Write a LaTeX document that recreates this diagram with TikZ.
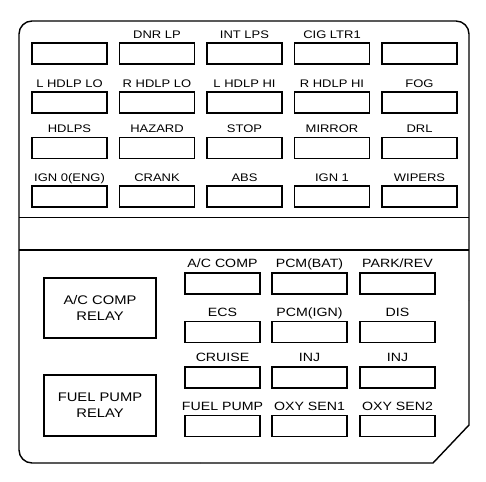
\documentclass[tikz,border=0pt]{standalone}
\usepackage{fontspec}
\usepackage{tikz}
\usetikzlibrary{positioning}
\newfontfamily\fusefont[FakeStretch=1.18]{Liberation Sans}
\tikzset{
  fuse/.style={rectangle, draw, line width=1.1pt, minimum width=75pt, minimum height=21pt, inner sep=0pt},
  relay/.style={rectangle, draw, line width=1.1pt, minimum width=112pt, minimum height=60pt, align=center, font=\fusefont\fontsize{12.5}{16}\selectfont},
  utxt/.style={inner sep=0pt, text depth=0pt, font=\fusefont\fontsize{11}{13}\selectfont},
  ltxt/.style={inner sep=0pt, text depth=0pt, font=\fusefont\fontsize{12}{14}\selectfont},
}

\begin{document}
\begin{tikzpicture}[x=1pt, y=-1pt]
  \useasboundingbox (0,0) rectangle (486,481);
  % housing
  \draw[line width=1.4pt, rounded corners=13pt] (200,463) -- (19,463) -- (19,21) -- (469,21) -- (469,300);
  \draw[line width=1.4pt] (469,300) -- (469,425) -- (433,463) -- (200,463);
  \draw[line width=1pt] (19,217) -- (469,217);
  \draw[line width=1.4pt] (19,250) -- (469,250);

  % upper fuse block
  \node[fuse] (r1c1) at (69.5,53.5) {};
  \node[fuse] (r1c2) at (157,53.5) {};
  \node[fuse] (r1c3) at (244.5,53.5) {};
  \node[fuse] (r1c4) at (332,53.5) {};
  \node[fuse] (r1c5) at (419.5,53.5) {};
  \node[utxt, above=4pt of r1c2] (l1c2) {DNR LP};
  \node[utxt, above=4pt of r1c3] (l1c3) {INT LPS};
  \node[utxt, above=4pt of r1c4] (l1c4) {CIG LTR1};

  \node[fuse] (r2c1) at (69.5,102.5) {};
  \node[fuse] (r2c2) at (157,102.5) {};
  \node[fuse] (r2c3) at (244.5,102.5) {};
  \node[fuse] (r2c4) at (332,102.5) {};
  \node[fuse] (r2c5) at (419.5,102.5) {};
  \node[utxt, above=4pt of r2c1] (l2c1) {L HDLP LO};
  \node[utxt, above=4pt of r2c2] (l2c2) {R HDLP LO};
  \node[utxt, above=4pt of r2c3] (l2c3) {L HDLP HI};
  \node[utxt, above=4pt of r2c4] (l2c4) {R HDLP HI};
  \node[utxt, above=4pt of r2c5] (l2c5) {FOG};

  \node[fuse] (r3c1) at (69.5,148) {};
  \node[fuse] (r3c2) at (157,148) {};
  \node[fuse] (r3c3) at (244.5,148) {};
  \node[fuse] (r3c4) at (332,148) {};
  \node[fuse] (r3c5) at (419.5,148) {};
  \node[utxt, above=4pt of r3c1] (l3c1) {HDLPS};
  \node[utxt, above=4pt of r3c2] (l3c2) {HAZARD};
  \node[utxt, above=4pt of r3c3] (l3c3) {STOP};
  \node[utxt, above=4pt of r3c4] (l3c4) {MIRROR};
  \node[utxt, above=4pt of r3c5] (l3c5) {DRL};

  \node[fuse] (r4c1) at (69.5,196.5) {};
  \node[fuse] (r4c2) at (157,196.5) {};
  \node[fuse] (r4c3) at (244.5,196.5) {};
  \node[fuse] (r4c4) at (332,196.5) {};
  \node[fuse] (r4c5) at (419.5,196.5) {};
  \node[utxt, above=4pt of r4c1] (l4c1) {IGN 0(ENG)};
  \node[utxt, above=4pt of r4c2] (l4c2) {CRANK};
  \node[utxt, above=4pt of r4c3] (l4c3) {ABS};
  \node[utxt, above=4pt of r4c4] (l4c4) {IGN 1};
  \node[utxt, above=4pt of r4c5] (l4c5) {WIPERS};

  % lower block
  \node[relay] (acrelay) at (100,308) {A/C COMP\\RELAY};
  \node[relay, minimum height=61pt] (fprelay) at (100,405.5) {FUEL PUMP\\RELAY};

  \node[fuse] (m1c1) at (222.5,283.5) {};
  \node[fuse] (m1c2) at (309.5,283.5) {};
  \node[fuse] (m1c3) at (397.5,283.5) {};
  \node[ltxt, above=4.5pt of m1c1] (n1c1) {A/C COMP};
  \node[ltxt, above=4.5pt of m1c2] (n1c2) {PCM(BAT)};
  \node[ltxt, above=4.5pt of m1c3] (n1c3) {PARK/REV};

  \node[fuse] (m2c1) at (222.5,332) {};
  \node[fuse] (m2c2) at (309.5,332) {};
  \node[fuse] (m2c3) at (397.5,332) {};
  \node[ltxt, above=4.5pt of m2c1] (n2c1) {ECS};
  \node[ltxt, above=4.5pt of m2c2] (n2c2) {PCM(IGN)};
  \node[ltxt, above=4.5pt of m2c3] (n2c3) {DIS};

  \node[fuse] (m3c1) at (222.5,377.5) {};
  \node[fuse] (m3c2) at (309.5,377.5) {};
  \node[fuse] (m3c3) at (397.5,377.5) {};
  \node[ltxt, above=4.5pt of m3c1] (n3c1) {CRUISE};
  \node[ltxt, above=4.5pt of m3c2] (n3c2) {INJ};
  \node[ltxt, above=4.5pt of m3c3] (n3c3) {INJ};

  \node[fuse] (m4c1) at (222.5,426) {};
  \node[fuse] (m4c2) at (309.5,426) {};
  \node[fuse] (m4c3) at (397.5,426) {};
  \node[ltxt, above=4.5pt of m4c1] (n4c1) {FUEL PUMP};
  \node[ltxt, above=4.5pt of m4c2] (n4c2) {OXY SEN1};
  \node[ltxt, above=4.5pt of m4c3] (n4c3) {OXY SEN2};
\end{tikzpicture}
\end{document}
